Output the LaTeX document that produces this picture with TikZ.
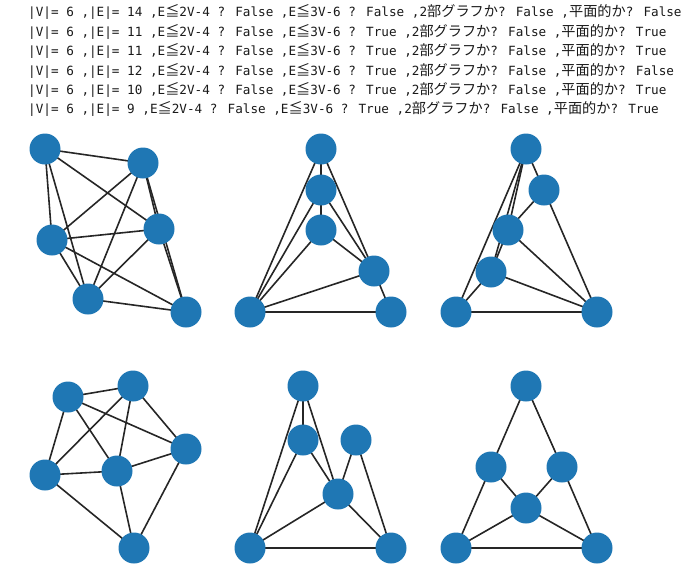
\documentclass[tikz,border=0pt]{standalone}
\usepackage{fontspec}
\newfontfamily\monofnt{DejaVu Sans Mono}
\newfontfamily\jpfnt{Noto Sans CJK JP}[Scale=1.12]
\newcommand\jj[1]{{\jpfnt #1}}
\definecolor{nodeblue}{HTML}{1F77B4}
\pgfdeclarelayer{bg}
\pgfsetlayers{bg,main}
\begin{document}
\begin{tikzpicture}[x=1pt,y=-1pt,
  vtx/.style={circle,fill=nodeblue,minimum size=31pt,inner sep=0pt},
  edge/.style={draw=black!85,line width=1.6pt},
  txt/.style={anchor=west,inner sep=0pt,font=\monofnt\fontsize{12.65}{14}\selectfont,text=black!90}]
\useasboundingbox (0,0) rectangle (700,582);
% text lines
\node[txt] (t1) at (28,12.3) {|V|= 6 ,|E|= 14 ,E\jj{≦}2V-4 ? False ,E\jj{≦}3V-6 ? False ,2\jj{部グラフか}? False ,\jj{平面的か}? False};
\node[txt] (t2) at (28,31.7) {|V|= 6 ,|E|= 11 ,E\jj{≦}2V-4 ? False ,E\jj{≦}3V-6 ? True ,2\jj{部グラフか}? False ,\jj{平面的か}? True};
\node[txt] (t3) at (28,51.1) {|V|= 6 ,|E|= 11 ,E\jj{≦}2V-4 ? False ,E\jj{≦}3V-6 ? True ,2\jj{部グラフか}? False ,\jj{平面的か}? True};
\node[txt] (t4) at (28,70.5) {|V|= 6 ,|E|= 12 ,E\jj{≦}2V-4 ? False ,E\jj{≦}3V-6 ? True ,2\jj{部グラフか}? False ,\jj{平面的か}? False};
\node[txt] (t5) at (28,89.9) {|V|= 6 ,|E|= 10 ,E\jj{≦}2V-4 ? False ,E\jj{≦}3V-6 ? True ,2\jj{部グラフか}? False ,\jj{平面的か}? True};
\node[txt] (t6) at (28,109.3) {|V|= 6 ,|E|= 9 ,E\jj{≦}2V-4 ? False ,E\jj{≦}3V-6 ? True ,2\jj{部グラフか}? False ,\jj{平面的か}? True};
% graph 1
\node[vtx] (a1) at (45,149) {};
\node[vtx] (b1) at (143,163) {};
\node[vtx] (c1) at (159,229) {};
\node[vtx] (d1) at (52,240) {};
\node[vtx] (e1) at (88,299) {};
\node[vtx] (f1) at (186,312) {};
% graph 2
\node[vtx] (a2) at (321,149) {};
\node[vtx] (b2) at (321,190) {};
\node[vtx] (c2) at (321,230) {};
\node[vtx] (d2) at (374,271) {};
\node[vtx] (e2) at (250,312) {};
\node[vtx] (f2) at (391,312) {};
% graph 3
\node[vtx] (a3) at (526,149) {};
\node[vtx] (b3) at (544,190) {};
\node[vtx] (c3) at (508,230) {};
\node[vtx] (d3) at (491,272) {};
\node[vtx] (e3) at (456,312) {};
\node[vtx] (f3) at (597,312) {};
% graph 4
\node[vtx] (a4) at (68,397) {};
\node[vtx] (b4) at (133,386) {};
\node[vtx] (c4) at (186,449) {};
\node[vtx] (d4) at (45,475) {};
\node[vtx] (e4) at (117,471) {};
\node[vtx] (f4) at (134,548) {};
% graph 5
\node[vtx] (a5) at (303,386) {};
\node[vtx] (b5) at (303,440) {};
\node[vtx] (c5) at (356,440) {};
\node[vtx] (d5) at (338,494) {};
\node[vtx] (e5) at (250,548) {};
\node[vtx] (f5) at (391,548) {};
% graph 6
\node[vtx] (a6) at (526,386) {};
\node[vtx] (b6) at (491,467) {};
\node[vtx] (c6) at (562,467) {};
\node[vtx] (d6) at (526,508) {};
\node[vtx] (e6) at (456,548) {};
\node[vtx] (f6) at (597,548) {};
\begin{pgfonlayer}{bg}
% graph 1 edges
\foreach \u/\v in {a1/b1,a1/c1,a1/d1,a1/e1,b1/c1,b1/d1,b1/e1,b1/f1,c1/d1,c1/e1,c1/f1,d1/e1,d1/f1,e1/f1}
  \draw[edge] (\u.center) -- (\v.center);
% graph 2 edges
\foreach \u/\v in {a2/b2,a2/e2,a2/d2,b2/c2,b2/e2,b2/d2,c2/e2,c2/d2,d2/e2,d2/f2,e2/f2}
  \draw[edge] (\u.center) -- (\v.center);
% graph 3 edges
\foreach \u/\v in {a3/b3,a3/c3,a3/d3,a3/e3,b3/c3,b3/f3,c3/d3,c3/f3,d3/e3,d3/f3,e3/f3}
  \draw[edge] (\u.center) -- (\v.center);
% graph 4 edges
\foreach \u/\v in {a4/b4,a4/c4,a4/d4,a4/e4,b4/d4,b4/e4,b4/c4,c4/e4,c4/f4,d4/e4,d4/f4,e4/f4}
  \draw[edge] (\u.center) -- (\v.center);
% graph 5 edges
\foreach \u/\v in {a5/b5,a5/e5,a5/d5,b5/e5,b5/d5,c5/d5,c5/f5,d5/e5,d5/f5,e5/f5}
  \draw[edge] (\u.center) -- (\v.center);
% graph 6 edges
\foreach \u/\v in {a6/b6,a6/c6,b6/d6,c6/d6,b6/e6,c6/f6,d6/e6,d6/f6,e6/f6}
  \draw[edge] (\u.center) -- (\v.center);
\end{pgfonlayer}
\end{tikzpicture}
\end{document}
